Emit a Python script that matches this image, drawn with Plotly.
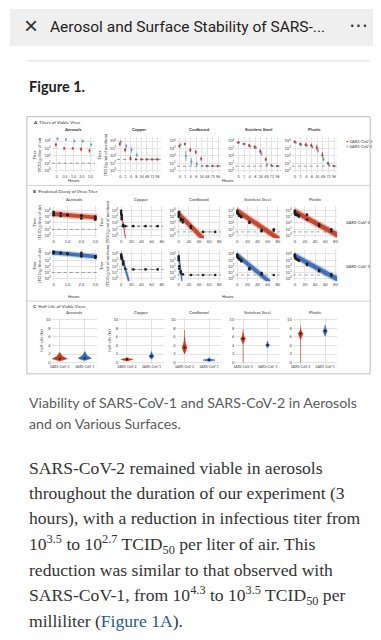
import plotly.graph_objects as go

W, H = 381, 640
def px(x): return x / W
def py(y): return 1 - y / H

SURFACES = ["Aerosols", "Copper", "Cardboard", "Stainless Steel", "Plastic"]
A_AEROSOL_TICKS = ["0", "0.5", "1.0", "2.0", "3.0"]
A_SURFACE_TICKS = ["0", "1", "4", "8", "24", "48", "72", "96"]
LOG_TICKS = ["10<sup>0</sup>", "10<sup>1</sup>", "10<sup>2</sup>", "10<sup>3</sup>", "10<sup>4</sup>"]

# Panel A: log10 titers (mean) and error
A_COV2 = {"Aerosols": [3.5, 3.0, 3.0, 2.9, 2.7],
          "Copper": [3.6, 2.8, 1.7, 1.5, 1.5, 1.5, 1.5, 1.5],
          "Cardboard": [3.3, 3.6, 2.8, 2.5, 1.6, 0.6, 0.6, 0.6],
          "Stainless Steel": [3.8, 3.6, 3.4, 3.2, 2.6, 1.5, 0.7, 0.6],
          "Plastic": [3.9, 3.6, 3.5, 3.4, 3.1, 2.1, 1.0, 0.6]}
A_COV2_ERR = {"Aerosols": [0.25, 0.2, 0.15, 0.3, 0.3],
              "Copper": [0.3, 0.3, 0.3, 0, 0, 0, 0, 0],
              "Cardboard": [0.2, 0.2, 0.3, 0.3, 0.3, 0.1, 0, 0],
              "Stainless Steel": [0.15, 0.15, 0.2, 0.25, 0.3, 0.3, 0.1, 0],
              "Plastic": [0.2, 0.2, 0.25, 0.25, 0.4, 0.4, 0.2, 0]}
A_COV1 = {"Aerosols": [4.3, 4.2, 4.0, 4.0, 3.5],
          "Copper": [3.9, 3.3, 2.8, 2.1, 1.5, 1.5, 1.5, 1.5],
          "Cardboard": [3.5, 2.0, 1.2, 0.9, 0.6, 0.6, 0.6, 0.6],
          "Stainless Steel": [3.8, 3.6, 3.3, 3.1, 2.3, 0.8, 0.6, 0.6],
          "Plastic": [3.8, 3.5, 3.4, 3.2, 2.7, 1.5, 0.8, 0.6]}
A_COV1_ERR = {"Aerosols": [0.2, 0.15, 0.2, 0.25, 0.2],
              "Copper": [0.2, 0.3, 0.4, 0.3, 0, 0, 0, 0],
              "Cardboard": [0.2, 0.7, 0.5, 0.3, 0.1, 0, 0, 0],
              "Stainless Steel": [0.15, 0.15, 0.2, 0.2, 0.3, 0.2, 0.1, 0],
              "Plastic": [0.2, 0.2, 0.2, 0.25, 0.3, 0.3, 0.2, 0]}
LOD = {"Aerosols": 1.0, "Copper": 1.5, "Cardboard": 0.6, "Stainless Steel": 0.6, "Plastic": 0.6}

# Panel B: replicate points
B_COV2_X = {"Aerosols": [0, 0, 0, 0.5, 0.5, 1, 1, 2, 2, 2, 3, 3, 3],
            "Copper": [0, 0, 0, 1, 1, 1, 4, 4],
            "Cardboard": [0, 0, 0, 1, 1, 4, 4, 8, 8, 24, 24],
            "Stainless Steel": [0, 0, 0, 1, 1, 4, 4, 8, 8, 24, 24, 48, 48, 72, 72],
            "Plastic": [0, 0, 0, 1, 1, 4, 4, 8, 8, 24, 24, 48, 48, 72, 72]}
B_COV2_Y = {"Aerosols": [3.4, 3.7, 3.2, 3.5, 3.1, 3.2, 3.3, 3.1, 2.7, 3.2, 2.7, 3.0, 2.5],
            "Copper": [3.9, 3.6, 3.4, 3.2, 2.9, 2.6, 1.7, 1.5],
            "Cardboard": [3.3, 3.6, 3.0, 3.7, 3.3, 2.7, 2.4, 2.5, 2.1, 1.5, 1.2],
            "Stainless Steel": [3.9, 3.7, 3.6, 3.6, 3.4, 3.3, 3.1, 3.1, 2.9, 2.2, 2.0, 0.9, 0.7, 1.0, 0.8],
            "Plastic": [3.9, 3.7, 3.5, 3.6, 3.3, 3.4, 3.2, 3.2, 3.0, 3.3, 2.5, 1.8, 1.5, 1.0, 0.7]}
B_COV1_X = {"Aerosols": [0, 0, 0, 0.5, 0.5, 1, 1, 2, 2, 2, 3, 3, 3],
            "Copper": [0, 0, 0, 1, 1, 4, 4, 4, 8],
            "Cardboard": [0, 0, 0, 1, 1, 4, 4, 8],
            "Stainless Steel": [0, 0, 0, 1, 1, 4, 4, 8, 8, 24, 24, 48, 48],
            "Plastic": [0, 0, 0, 1, 1, 4, 4, 8, 8, 24, 24, 48, 48, 72, 72]}
B_COV1_Y = {"Aerosols": [4.3, 4.1, 4.4, 4.2, 4.1, 4.0, 4.1, 4.2, 3.6, 3.9, 3.6, 3.4, 3.5],
            "Copper": [3.9, 3.7, 3.5, 3.4, 3.2, 2.8, 2.5, 2.3, 1.6],
            "Cardboard": [3.6, 3.3, 3.0, 2.0, 1.6, 1.2, 0.9, 0.7],
            "Stainless Steel": [3.9, 3.7, 3.6, 3.5, 3.4, 3.3, 3.1, 3.0, 2.8, 1.7, 1.5, 0.7, 0.9],
            "Plastic": [3.9, 3.7, 3.6, 3.4, 3.3, 3.2, 3.1, 3.0, 2.9, 2.4, 2.2, 1.4, 1.2, 0.7, 0.5]}
B_COV2_LODX = {"Copper": [8, 24, 48, 72], "Cardboard": [48, 72]}
B_COV1_LODX = {"Copper": [24, 48, 72], "Cardboard": [24, 48, 72], "Stainless Steel": [72]}
# regression bands: (x start, center start, x end, center end, inner half-width, outer half-width)
B_COV2_BAND = {"Aerosols": (-0.15, 3.45, 3.15, 2.85, 0.3, 0.55),
               "Copper": (0, 3.9, 9, -0.6, 0.4, 0.7),
               "Cardboard": (0, 3.4, 50, -0.6, 0.45, 0.75),
               "Stainless Steel": (0, 3.9, 84, -0.6, 0.4, 0.65),
               "Plastic": (0, 3.8, 84, 0.1, 0.4, 0.65)}
B_COV1_BAND = {"Aerosols": (-0.15, 4.25, 3.15, 3.55, 0.3, 0.5),
               "Copper": (0, 3.9, 16, -0.6, 0.5, 0.9),
               "Cardboard": (0, 3.6, 7, -0.6, 0.8, 1.3),
               "Stainless Steel": (0, 3.8, 65, -0.6, 0.4, 0.65),
               "Plastic": (0, 3.7, 84, -0.1, 0.4, 0.65)}

# Panel C: half-life violins (low, median, high, half-width)
C_COV2 = {"Aerosols": (0.4, 0.9, 2.4, 0.3), "Copper": (0.4, 0.75, 1.2, 0.25),
          "Cardboard": (2.0, 3.5, 6.0, 0.1), "Stainless Steel": (4.4, 5.6, 7.0, 0.1),
          "Plastic": (5.4, 6.8, 8.0, 0.1)}
C_COV1 = {"Aerosols": (0.5, 1.0, 2.6, 0.26), "Copper": (0.8, 1.5, 2.6, 0.11),
          "Cardboard": (0.3, 0.6, 1.1, 0.25), "Stainless Steel": (3.4, 4.1, 5.0, 0.08),
          "Plastic": (6.2, 7.4, 8.8, 0.09)}
C_COV2_TAIL = {"Cardboard": (2.0, 7.6), "Stainless Steel": (0.0, 7.8), "Plastic": (0.0, 8.6)}
C_TICKS = ["SARS-CoV-2", "SARS-CoV-1"]

RED = "#c23a22"
BLUE = "#3567b5"
LBLUE = "#6d9ad6"

# pixel geometry
COLS_A = [(42, 86), (108, 152), (168, 213), (227, 273), (284, 330)]
COLS = [(42, 88), (110, 155), (168, 213), (227, 272), (285, 330)]
ROW_A = (128, 165)
ROW_B1 = (198, 230)
ROW_B2 = (242, 273)
ROW_C = (310, 356)

fig = go.Figure()
layout = {}
TF = dict(size=4, color="#444", family="Lato")

def axis_names(n):
    return ("x" if n == 1 else f"x{n}", "y" if n == 1 else f"y{n}",
            "xaxis" if n == 1 else f"xaxis{n}", "yaxis" if n == 1 else f"yaxis{n}")

def setup_axes(n, col, row, xcfg, ycfg):
    xr, yr, xk, yk = axis_names(n)
    base = dict(showgrid=True, gridcolor="#e3e3e3", gridwidth=0.5, zeroline=False,
                showline=False, ticks="", tickfont=TF, fixedrange=True, tickangle=0)
    layout[xk] = dict(base, domain=[px(col[0]), px(col[1])], anchor=yr, **xcfg)
    layout[yk] = dict(base, domain=[py(row[1]), py(row[0])], anchor=xr, **ycfg)
    return xr, yr

Y_LOG = dict(range=[-0.4, 4.6], tickvals=[0, 1, 2, 3, 4], ticktext=LOG_TICKS)
TITLE_AIR = "Titer<br>(TCID<sub>50</sub>/liter of air)"
TITLE_MED = "Titer<br>(TCID<sub>50</sub>/ml of medium)"
TFONT = dict(size=4.2, color="#333", family="Lato")

# ---- Panel A
n = 0
for i, s in enumerate(SURFACES):
    n += 1
    ticks = A_AEROSOL_TICKS if s == "Aerosols" else A_SURFACE_TICKS
    idx = list(range(len(ticks)))
    ycfg = dict(Y_LOG)
    if i == 0:
        ycfg["title"] = dict(text=TITLE_AIR, font=TFONT, standoff=2)
    elif i == 1:
        ycfg["title"] = dict(text=TITLE_MED, font=TFONT, standoff=2)
    xr, yr = setup_axes(n, COLS_A[i], ROW_A,
                        dict(range=[-0.6, len(ticks) - 0.4], tickvals=idx, ticktext=ticks,
                             tickfont=dict(TF, size=3.6)), ycfg)
    fig.add_trace(go.Scatter(x=[-0.6, len(ticks) - 0.4], y=[LOD[s]] * 2, mode="lines",
                             line=dict(color="#555", width=0.6, dash="dot"), xaxis=xr, yaxis=yr))
    for vals, errs, col, off in ((A_COV1[s], A_COV1_ERR[s], LBLUE, 0.1), (A_COV2[s], A_COV2_ERR[s], RED, -0.1)):
        fig.add_trace(go.Scatter(x=[k + off for k in idx], y=vals, mode="markers",
                                 marker=dict(color=col, size=2.2),
                                 error_y=dict(type="data", array=errs, color=col, thickness=0.8, width=0),
                                 xaxis=xr, yaxis=yr))

# ---- Panel B
for row, (pts_x, pts_y, band, lodx, rc, lc, rowpx) in enumerate((
        (B_COV2_X, B_COV2_Y, B_COV2_BAND, B_COV2_LODX, RED, "rgba(214,80,50,0.35)", ROW_B1),
        (B_COV1_X, B_COV1_Y, B_COV1_BAND, B_COV1_LODX, BLUE, "rgba(80,130,210,0.35)", ROW_B2))):
    for i, s in enumerate(SURFACES):
        n += 1
        if s == "Aerosols":
            xcfg = dict(range=[-0.15, 3.15], tickvals=[0, 1, 2, 3], ticktext=["0", "1.0", "2.0", "3.0"])
            xlo, xhi = -0.15, 3.15
        else:
            xcfg = dict(range=[-4, 84], tickvals=[0, 20, 40, 60, 80])
            xlo, xhi = -4, 84
        ycfg = dict(Y_LOG)
        if i == 0:
            ycfg["title"] = dict(text=TITLE_AIR, font=TFONT, standoff=2)
        elif i == 1:
            ycfg["title"] = dict(text=TITLE_MED, font=TFONT, standoff=2)
        xr, yr = setup_axes(n, COLS[i], rowpx, xcfg, ycfg)
        x0, c0, x1, c1, wi, wo = band[s]
        for w, fc in ((wo, lc), (wi, rc)):
            fig.add_trace(go.Scatter(x=[x0, x1, x1, x0, x0], y=[c0 + w, c1 + w, c1 - w, c0 - w, c0 + w],
                                     mode="lines", fill="toself", fillcolor=fc, line=dict(width=0),
                                     opacity=0.9 if w == wi else 1, xaxis=xr, yaxis=yr))
        fig.add_trace(go.Scatter(x=[xlo, xhi], y=[LOD[s]] * 2, mode="lines",
                                 line=dict(color="#666", width=0.6, dash="dot"), xaxis=xr, yaxis=yr))
        if s in lodx:
            fig.add_trace(go.Scatter(x=lodx[s], y=[LOD[s]] * len(lodx[s]), mode="lines+markers",
                                     line=dict(color="#222", width=0.6, dash="dot"),
                                     marker=dict(color="#222", size=2.6), xaxis=xr, yaxis=yr))
        fig.add_trace(go.Scatter(x=pts_x[s], y=pts_y[s], mode="markers",
                                 marker=dict(color="#1e1e1e", size=2.6), xaxis=xr, yaxis=yr))

# ---- Panel C
for i, s in enumerate(SURFACES):
    n += 1
    ycfg = dict(range=[-0.3, 10.4], tickvals=[0, 2, 4, 6, 8, 10])
    if i in (0, 1):
        ycfg["title"] = dict(text="Half-Life (hr)", font=TFONT, standoff=2)
    xr, yr = setup_axes(n, COLS[i], ROW_C,
                        dict(range=[-0.32, 1.5], tickvals=[0, 1], ticktext=C_TICKS,
                             tickfont=dict(TF, size=3.5)), ycfg)
    for pos, (lo, med, hi, w), col in ((0, C_COV2[s], RED), (1, C_COV1[s], BLUE)):
        if pos == 0 and s in C_COV2_TAIL:
            t0, t1 = C_COV2_TAIL[s]
            fig.add_trace(go.Scatter(x=[pos, pos], y=[t0, t1], mode="lines",
                                     line=dict(color=col, width=0.6), xaxis=xr, yaxis=yr))
        ys = [lo, lo + (med - lo) * 0.5, med, med + (hi - med) * 0.4, hi]
        ws = [0, 0.55 * w, w, 0.35 * w, 0]
        xs = [pos + v for v in ws] + [pos - v for v in ws[::-1]]
        fig.add_trace(go.Scatter(x=xs, y=ys + ys[::-1], mode="lines", fill="toself", fillcolor=col,
                                 line=dict(color=col, width=0.5), xaxis=xr, yaxis=yr))
        fig.add_trace(go.Scatter(x=[pos], y=[med], mode="markers",
                                 marker=dict(color="#3a1010" if pos == 0 else "#10203a", size=2.2),
                                 xaxis=xr, yaxis=yr))

layout.update(dict(width=W, height=H, margin=dict(l=0, r=0, t=0, b=0), showlegend=False,
                   paper_bgcolor="white", plot_bgcolor="white"))
fig.update_layout(**layout)

shapes = [
    dict(type="rect", xref="paper", yref="paper", x0=0, x1=1, y0=py(37), y1=1,
         fillcolor="#efefef", line=dict(width=0), layer="below"),
    dict(type="line", xref="paper", yref="paper", x0=px(17), x1=px(363), y0=py(52), y1=py(52),
         line=dict(color="#dcdcdc", width=1)),
    dict(type="rect", xref="paper", yref="paper", x0=px(17), x1=px(363), y0=py(366), y1=py(108),
         line=dict(color="#bdbdbd", width=1), layer="below"),
    dict(type="line", xref="paper", yref="paper", x0=px(17), x1=px(363), y0=py(177), y1=py(177),
         line=dict(color="#c8c8c8", width=0.8)),
    dict(type="line", xref="paper", yref="paper", x0=px(17), x1=px(363), y0=py(293), y1=py(293),
         line=dict(color="#c8c8c8", width=0.8)),
    dict(type="line", xref="paper", yref="paper", x0=0, x1=1, y0=py(638), y1=py(638),
         line=dict(color="#e6e6e6", width=2)),
]

ann = []
def text(x, y, t, size, color="#222", family="Lato", xanchor="left", **kw):
    ann.append(dict(x=px(x), y=py(y), xref="paper", yref="paper", text=t, showarrow=False,
                    xanchor=xanchor, yanchor="middle", font=dict(size=size, color=color, family=family), **kw))

text(12, 17, "×", 24, "#333", "Liberation Sans")
text(38, 18, "Aerosol and Surface Stability of SARS-...", 15.5, "#222", "Roboto")
text(363, 17, "···", 20, "#333", "DejaVu Sans", xanchor="right")
text(17, 78, "<b>Figure 1.</b>", 14.5, "#222", "Lato")

text(21, 114, "<b>A</b>  Titers of Viable Virus", 4.5, "#333")
text(21, 183, "<b>B</b>  Predicted Decay of Virus Titer", 4.5, "#333")
text(21, 298, "<b>C</b>  Half-Life of Viable Virus", 4.5, "#333")
for i, s in enumerate(SURFACES):
    text((COLS_A[i][0] + COLS_A[i][1]) / 2, 121, "<b>" + s + "</b>", 4.3, "#333", xanchor="center")
    text((COLS[i][0] + COLS[i][1]) / 2, 191, s, 4.3, "#333", xanchor="center")
    text((COLS[i][0] + COLS[i][1]) / 2, 304, s, 4.3, "#333", xanchor="center")
for y in (172, 288):
    text(65, y, "Hours", 4.3, "#333", xanchor="center")
    text(220, y, "Hours", 4.3, "#333", xanchor="center")
text(337, 133, f"<span style='color:{RED}'>•</span> SARS-CoV-2", 4.2, "#444")
text(337, 138, f"<span style='color:{LBLUE}'>•</span> SARS-CoV-1", 4.2, "#444")
text(337, 214, "SARS-CoV-2", 4.4, "#333")
text(337, 258, "SARS-CoV-1", 4.4, "#333")

CAPTION = ["Viability of SARS-CoV-1 and SARS-CoV-2 in Aerosols", "and on Various Surfaces."]
text(17, 395, CAPTION[0], 14.2, "#5a5a5a")
text(17, 416, CAPTION[1], 14.2, "#5a5a5a")

BODY_LINES = [
    "SARS-CoV-2 remained viable in aerosols",
    "throughout the duration of our experiment (3",
    "hours), with a reduction in infectious titer from",
    "10<sup>3.5</sup> to 10<sup>2.7</sup> TCID<sub>50</sub> per liter of air. This",
    "reduction was similar to that observed with",
    "SARS-CoV-1, from 10<sup>4.3</sup> to 10<sup>3.5</sup> TCID<sub>50</sub> per",
    "milliliter (<span style='color:#245b8c'>Figure 1A</span>).",
]
BODY_Y = [460, 486, 511, 537, 563, 588, 614]
for t, y in zip(BODY_LINES, BODY_Y):
    text(17, y, t, 17.6, "#333", "Liberation Serif")

fig.update_layout(shapes=shapes, annotations=ann)
fig.write_html("out.html")
